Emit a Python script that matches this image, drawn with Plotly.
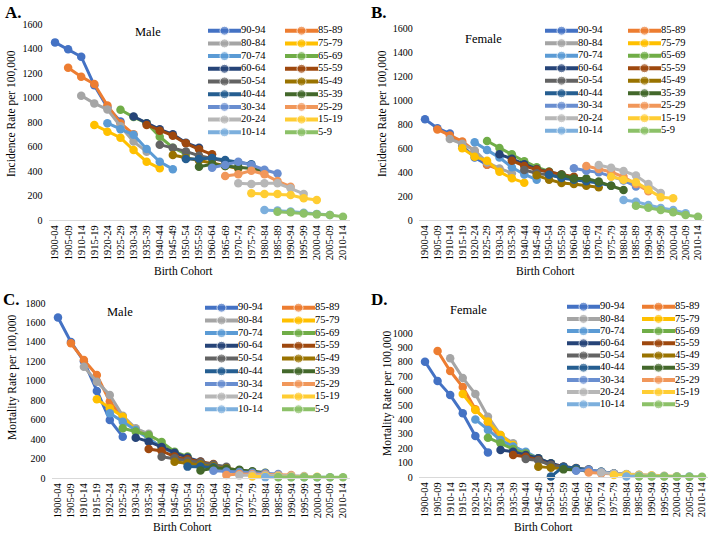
import plotly.graph_objects as go

# ---------------- data ----------------
COHORTS = ["1900-04", "1905-09", "1910-14", "1915-19", "1920-24", "1925-29",
           "1930-34", "1935-39", "1940-44", "1945-49", "1950-54", "1955-59",
           "1960-64", "1965-69", "1970-74", "1975-79", "1980-84", "1985-89",
           "1990-94", "1995-99", "2000-04", "2005-09", "2010-14"]

AGE_GROUPS = ["90-94", "85-89", "80-84", "75-79", "70-74", "65-69", "60-64",
              "55-59", "50-54", "45-49", "40-44", "35-39", "30-34", "25-29",
              "20-24", "15-19", "10-14", "5-9"]

COLORS = ["#4472C4", "#ED7D31", "#A5A5A5", "#FFC000", "#5B9BD5", "#70AD47",
          "#264478", "#9E480E", "#636363", "#997300", "#255E91", "#43682B",
          "#698ED0", "#F1975A", "#B7B7B7", "#FFCD33", "#7CAFDD", "#8CC168"]

# each age group i spans 6 consecutive cohorts starting at COHORTS[i]
INC_MALE = [
    [1450, 1393, 1333, 1100, 920, 805],
    [1243, 1170, 1110, 935, 790, 700],
    [1015, 952, 903, 765, 640, 558],
    [776, 721, 672, 571, 476, 422],
    [790, 740, 695, 580, 475, 415],
    [900, 840, 790, 680, 590, 540],
    [845, 790, 740, 700, 630, 590],
    [776, 729, 688, 626, 577, 536],
    [615, 590, 560, 525, 500, 480],
    [531, 505, 485, 465, 440, 420],
    [498, 498, 506, 490, 470, 455],
    [435, 455, 440, 430, 420, 400],
    [427, 449, 476, 449, 410, 380],
    [359, 373, 403, 373, 318, 272],
    [300, 294, 300, 300, 259, 213],
    [218, 212, 212, 204, 177, 163],
    [82, 78, 70, 60, 50, 41],
    [68, 63, 54, 46, 41, 27],
]

INC_FEMALE = [
    [840, 765, 720, 620, 520, 460],
    [755, 705, 655, 575, 460, 420],
    [675, 635, 580, 480, 430, 390],
    [597, 528, 494, 403, 347, 311],
    [647, 583, 520, 440, 380, 336],
    [658, 600, 547, 490, 440, 405],
    [547, 510, 465, 425, 400, 380],
    [494, 450, 420, 400, 380, 360],
    [417, 390, 375, 355, 340, 330],
    [372, 336, 308, 300, 285, 272],
    [378, 350, 336, 322, 308, 285],
    [378, 345, 345, 320, 285, 250],
    [431, 410, 397, 365, 330, 280],
    [450, 425, 400, 360, 300, 240],
    [458, 436, 408, 370, 300, 225],
    [361, 336, 315, 253, 190, 181],
    [167, 153, 125, 100, 83, 56],
    [119, 103, 83, 64, 42, 28],
]

MORT_MALE = [
    [1650, 1400, 1200, 895, 597, 425],
    [1385, 1214, 1059, 786, 620, 500],
    [1145, 991, 854, 640, 511, 455],
    [809, 717, 631, 494, 420, 300],
    [665, 579, 494, 410, 320, 250],
    [511, 477, 443, 370, 270, 220],
    [415, 374, 320, 260, 210, 170],
    [298, 278, 220, 192, 168, 145],
    [219, 202, 178, 160, 140, 115],
    [168, 151, 140, 120, 100, 80],
    [117, 117, 110, 90, 80, 65],
    [78, 100, 95, 85, 70, 55],
    [75, 68, 62, 55, 48, 42],
    [31, 40, 38, 35, 32, 30],
    [27, 30, 28, 25, 22, 20],
    [16, 18, 17, 15, 13, 12],
    [9, 10, 9, 8, 8, 7],
    [8, 8, 7, 7, 7, 7],
]

MORT_FEMALE = [
    [801, 667, 569, 442, 285, 171],
    [875, 736, 625, 470, 380, 270],
    [824, 688, 576, 419, 292, 234],
    [576, 465, 385, 292, 222, 160],
    [400, 326, 257, 211, 176, 130],
    [273, 234, 194, 164, 130, 95],
    [187, 176, 153, 130, 95, 72],
    [153, 141, 118, 83, 72, 62],
    [125, 114, 83, 68, 60, 53],
    [72, 65, 60, 49, 42, 32],
    [3, 72, 60, 49, 37, 25],
    [53, 49, 42, 37, 25, 19],
    [44, 50, 37, 25, 19, 14],
    [32, 25, 21, 19, 14, 9],
    [32, 22, 20, 15, 10, 8],
    [14, 17, 14, 10, 7, 6],
    [4, 8, 6, 5, 4, 4],
    [3, 3, 3, 2, 2, 2],
]

# ---------------- layout helpers ----------------
W, H = 710, 534
FONT = "Liberation Serif, Times New Roman, serif"


def fx(px):
    return px / W


def fy(py):
    return 1 - py / H


PANELS = [
    dict(data=INC_MALE, letter="A.", sex="Male", ytitle="Incidence Rate per 100,000",
         xpx=(48.5, 349.5), ypx=(220, 24), ymax=1600, dtick=200,
         letter_xy=(3, 12), sex_xy=(148, 32), ytitle_xy=(12, 114), xtitle_xy=(183, 271),
         leg=dict(k=(208, 285), y0=30.7, dy=12.7)),
    dict(data=INC_FEMALE, letter="B.", sex="Female", ytitle="Incidence Rate per 100,000",
         xpx=(418.8, 704.2), ypx=(220, 28), ymax=1600, dtick=200,
         letter_xy=(369, 12), sex_xy=(483, 39), ytitle_xy=(383, 113), xtitle_xy=(545, 271),
         leg=dict(k=(545, 628), y0=30.7, dy=12.5)),
    dict(data=MORT_MALE, letter="C.", sex="Male", ytitle="Mortality Rate per 100,000",
         xpx=(51.5, 349.5), ypx=(478, 303), ymax=1800, dtick=200,
         letter_xy=(1, 299), sex_xy=(120, 312), ytitle_xy=(12, 378), xtitle_xy=(182, 527),
         leg=dict(k=(205, 282), y0=307.7, dy=12.7)),
    dict(data=MORT_FEMALE, letter="D.", sex="Female", ytitle="Mortality Rate per 100,000",
         xpx=(418.7, 708.3), ypx=(477, 333), ymax=1000, dtick=100,
         letter_xy=(369, 299), sex_xy=(468, 310), ytitle_xy=(387, 394), xtitle_xy=(543, 527),
         leg=dict(k=(567, 642), y0=306.7, dy=12.2)),
]

KEY_LEN = 33
fig = go.Figure()
layout = dict(
    width=W, height=H, template="none",
    margin=dict(l=0, r=0, t=0, b=0, pad=0),
    paper_bgcolor="white", plot_bgcolor="rgba(0,0,0,0)",
    font=dict(family=FONT, color="#000000", size=10),
    showlegend=False, hovermode=False,
)
annotations = []

for p, P in enumerate(PANELS):
    n = p + 1
    xa = "x" if n == 1 else f"x{n}"
    ya = "y" if n == 1 else f"y{n}"
    for i, (name, vals) in enumerate(zip(AGE_GROUPS, P["data"])):
        fig.add_trace(go.Scatter(
            x=COHORTS[i:i + len(vals)], y=vals, name=name,
            mode="lines+markers", xaxis=xa, yaxis=ya, cliponaxis=False,
            line=dict(color=COLORS[i], width=3),
            marker=dict(color=COLORS[i], size=8.5),
            showlegend=False,
        ))
    layout["xaxis" if n == 1 else f"xaxis{n}"] = dict(
        domain=[fx(P["xpx"][0]), fx(P["xpx"][1])], anchor=ya,
        type="category", categoryorder="array", categoryarray=COHORTS,
        tickmode="array", tickvals=COHORTS, ticktext=COHORTS,
        range=[-0.5, len(COHORTS) - 0.5], showgrid=False, zeroline=False,
        showline=True, linecolor="#D9D9D9", linewidth=1, ticks="",
        tickangle=-90, tickfont=dict(family=FONT, size=10.5), automargin=False,
        fixedrange=True,
    )
    layout["yaxis" if n == 1 else f"yaxis{n}"] = dict(
        domain=[fy(P["ypx"][0]), fy(P["ypx"][1])], anchor=xa,
        range=[0, P["ymax"]], dtick=P["dtick"], tick0=0, showgrid=False,
        zeroline=False, showline=False, ticks="", ticklabelstandoff=5,
        tickfont=dict(family=FONT, size=10), automargin=False, fixedrange=True,
    )
    # text annotations
    annotations.append(dict(text=f"<b>{P['letter']}</b>", x=fx(P["letter_xy"][0]), y=fy(P["letter_xy"][1]),
                            xref="paper", yref="paper", xanchor="left", yanchor="middle",
                            showarrow=False, font=dict(family=FONT, size=17)))
    annotations.append(dict(text=P["sex"], x=fx(P["sex_xy"][0]), y=fy(P["sex_xy"][1]),
                            xref="paper", yref="paper", xanchor="center", yanchor="middle",
                            showarrow=False, font=dict(family=FONT, size=12.5)))
    annotations.append(dict(text=P["ytitle"], x=fx(P["ytitle_xy"][0]), y=fy(P["ytitle_xy"][1]),
                            xref="paper", yref="paper", xanchor="center", yanchor="middle",
                            textangle=-90, showarrow=False, font=dict(family=FONT, size=11.5)))
    annotations.append(dict(text="Birth Cohort", x=fx(P["xtitle_xy"][0]), y=fy(P["xtitle_xy"][1]),
                            xref="paper", yref="paper", xanchor="center", yanchor="middle",
                            showarrow=False, font=dict(family=FONT, size=11.5)))
    # legend keys (two columns) drawn on a full-figure pixel axis
    L = P["leg"]
    for i, name in enumerate(AGE_GROUPS):
        kx = L["k"][i % 2]
        ky = L["y0"] + (i // 2) * L["dy"]
        fig.add_trace(go.Scatter(
            x=[kx, kx + KEY_LEN / 2, kx + KEY_LEN], y=[ky, ky, ky],
            mode="lines+markers+text", text=["", "", name], textposition="middle right",
            textfont=dict(family=FONT, size=10.5, color="#000000"),
            xaxis="x5", yaxis="y5", cliponaxis=False,
            line=dict(color=COLORS[i], width=4),
            marker=dict(color=COLORS[i], size=[0, 9, 0]),
            showlegend=False,
        ))

layout["xaxis5"] = dict(domain=[0, 1], range=[0, W], visible=False, anchor="y5", fixedrange=True)
layout["yaxis5"] = dict(domain=[0, 1], range=[H, 0], visible=False, anchor="x5", fixedrange=True)
layout["annotations"] = annotations
fig.update_layout(**layout)

fig.write_html(
    "out.html",
    config={"displayModeBar": False, "staticPlot": True},
    post_script="document.body.style.margin='0';document.body.style.overflow='hidden';",
)
